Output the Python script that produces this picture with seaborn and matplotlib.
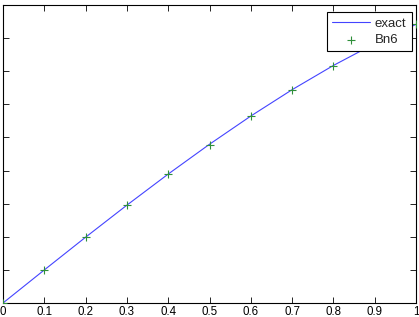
import matplotlib
matplotlib.use("Agg")
import matplotlib.pyplot as plt
import seaborn as sns
import pandas as pd

x_vals = [0.0, 0.1, 0.2, 0.3, 0.4, 0.5, 0.6, 0.7, 0.8, 0.9, 1.0]
exact_vals = [0.0, 0.0998, 0.1987, 0.2955, 0.3894, 0.4794, 0.5646, 0.6442, 0.7174, 0.7833, 0.8415]
bn6_vals = [0.0, 0.0996, 0.1983, 0.2949, 0.3886, 0.4785, 0.5636, 0.6431, 0.7164, 0.7826, 0.8415]
x_ticks = [0, 0.1, 0.2, 0.3, 0.4, 0.5, 0.6, 0.7, 0.8, 0.9, 1]
x_tick_labels = ["0", "0.1", "0.2", "0.3", "0.4", "0.5", "0.6", "0.7", "0.8", "0.9", "1"]
y_ticks = [0, 0.1, 0.2, 0.3, 0.4, 0.5, 0.6, 0.7, 0.8, 0.9]

sns.set_style("white")
plt.rcParams['font.family'] = ['Liberation Sans', 'DejaVu Sans']

df = pd.DataFrame({"x": x_vals, "exact": exact_vals, "Bn6": bn6_vals})

fig = plt.figure(figsize=(4.19, 3.17), dpi=100)
ax = fig.add_axes([3/419, 1 - 303/317, 413/419, 298/317])

sns.lineplot(data=df, x="x", y="exact", ax=ax, color="#4444ff", linewidth=0.8, label="exact")
sns.scatterplot(data=df, x="x", y="Bn6", ax=ax, marker="+", color="#2f8f3a", s=36,
                linewidth=0.8, label="Bn6", zorder=3)

ax.set_xlim(0, 1)
ax.set_ylim(0, 0.9)
ax.set_xticks(x_ticks)
ax.set_xticklabels(x_tick_labels, fontsize=8.3)
ax.set_yticks(y_ticks)
ax.set_yticklabels([])
ax.set_xlabel("")
ax.set_ylabel("")
ax.tick_params(direction="in", length=4, width=0.6, top=True, right=True, left=True, bottom=True,
               pad=2, colors="black")
for s in ax.spines.values():
    s.set_visible(True)
    s.set_color("black")
    s.set_linewidth(0.8)

leg = ax.legend(loc="upper right", bbox_to_anchor=(0.990, 0.9755), fontsize=9.5, frameon=True,
                fancybox=False, framealpha=1, edgecolor="black", borderpad=0.4,
                handlelength=2.9, handletextpad=0.35, labelspacing=0.3, borderaxespad=0)
leg.get_frame().set_linewidth(0.8)

fig.savefig("out.png", dpi=100)
